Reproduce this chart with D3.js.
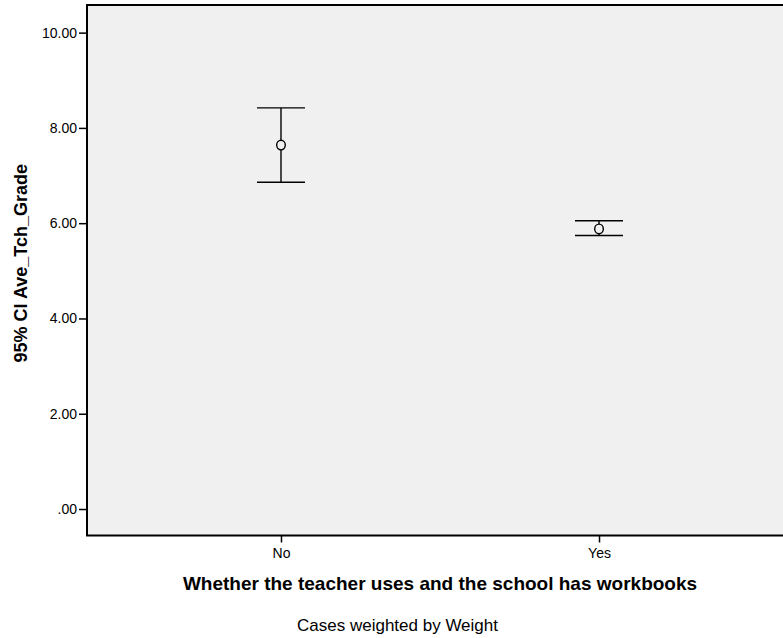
<!DOCTYPE html>
<html>
<head>
<meta charset="utf-8">
<script src="https://cdn.jsdelivr.net/npm/d3@7"></script>
<style>
  html, body { margin: 0; padding: 0; background: #fff; }
  svg { display: block; font-family: "Liberation Sans", Arial, sans-serif; }
</style>
</head>
<body>
<svg id="chart" width="783" height="638"></svg>
<script>
// Mean and 95% confidence interval of Ave_Tch_Grade per group
const categories = ["No", "Yes"];
const means = [7.64, 5.88];
const lowers = [6.86, 5.74];
const uppers = [8.42, 6.05];
const yTicks = [0, 2, 4, 6, 8, 10];
const yTickLabels = [".00", "2.00", "4.00", "6.00", "8.00", "10.00"];

const svg = d3.select("#chart");
const plotLeft = 87, plotTop = 5, plotRight = 793, plotBottom = 535.5;

const y = d3.scaleLinear().domain([-0.556, 10.58]).range([plotBottom, plotTop]);
const x = d3.scalePoint().domain(categories).range([plotLeft, plotRight]).padding(0.61);

// plot background
svg.append("rect")
  .attr("x", plotLeft).attr("y", plotTop)
  .attr("width", plotRight - plotLeft).attr("height", plotBottom - plotTop)
  .attr("fill", "#f0f0f0");

// y axis
const yAxis = d3.axisLeft(y)
  .tickValues(yTicks)
  .tickFormat((d, i) => yTickLabels[i])
  .tickSize(8).tickPadding(2);
const yg = svg.append("g").attr("transform", `translate(${plotLeft},0)`).call(yAxis);
yg.select(".domain").remove();
yg.selectAll(".tick line").attr("stroke", "#000").attr("stroke-width", 1.5);
yg.selectAll(".tick text").attr("font-size", 14).attr("fill", "#000")
  .attr("font-family", "'Liberation Sans', Arial, sans-serif");

// x axis
const xAxis = d3.axisBottom(x).tickSize(7).tickPadding(6);
const xg = svg.append("g").attr("transform", `translate(0,${plotBottom})`).call(xAxis);
xg.select(".domain").remove();
xg.selectAll(".tick line").attr("stroke", "#000").attr("stroke-width", 1.5);
xg.selectAll(".tick text").attr("font-size", 14).attr("fill", "#000")
  .attr("font-family", "'Liberation Sans', Arial, sans-serif");

// frame
svg.append("path")
  .attr("d", `M${plotRight},${plotTop}H${plotLeft}V${plotBottom}H${plotRight}`)
  .attr("fill", "none").attr("stroke", "#000").attr("stroke-width", 2);

// error bars
const capHalf = 24;
const g = svg.append("g").attr("stroke", "#000").attr("stroke-width", 1.4).attr("fill", "none");
categories.forEach((c, i) => {
  const cx = x(c);
  g.append("line").attr("x1", cx).attr("x2", cx).attr("y1", y(uppers[i])).attr("y2", y(lowers[i]));
  g.append("line").attr("x1", cx - capHalf).attr("x2", cx + capHalf).attr("y1", y(uppers[i])).attr("y2", y(uppers[i]));
  g.append("line").attr("x1", cx - capHalf).attr("x2", cx + capHalf).attr("y1", y(lowers[i])).attr("y2", y(lowers[i]));
  g.append("ellipse").attr("cx", cx).attr("cy", y(means[i])).attr("rx", 4.3).attr("ry", 4.8)
    .attr("fill", "#f0f0f0");
});

// axis titles
svg.append("text")
  .attr("transform", `translate(27,${(plotTop + plotBottom) / 2 - 7}) rotate(-90)`)
  .attr("text-anchor", "middle")
  .attr("font-size", 18).attr("font-weight", "bold")
  .text("95% CI Ave_Tch_Grade");

svg.append("text")
  .attr("x", 440).attr("y", 590)
  .attr("text-anchor", "middle")
  .attr("font-size", 19).attr("font-weight", "bold")
  .text("Whether the teacher uses and the school has workbooks");

svg.append("text")
  .attr("x", 397.5).attr("y", 631)
  .attr("text-anchor", "middle")
  .attr("font-size", 17)
  .text("Cases weighted by Weight");
</script>
</body>
</html>
